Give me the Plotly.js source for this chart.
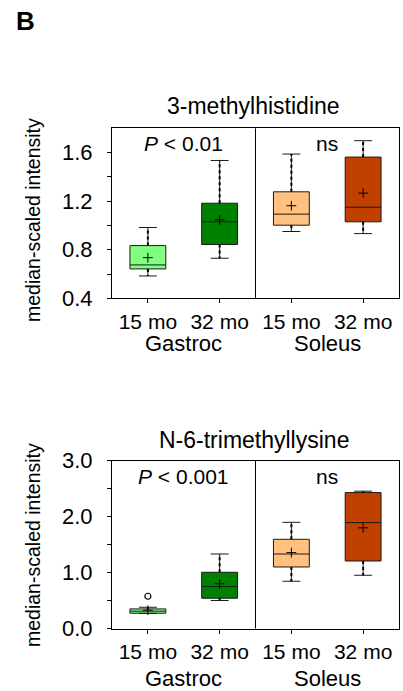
<!DOCTYPE html>
<html><head><meta charset="utf-8">
<script src="https://cdn.plot.ly/plotly-3.0.1.min.js"></script>
<style>html,body{margin:0;padding:0;background:#fff;}</style>
</head><body>
<div id="chart" style="width:403px;height:691px;"></div>
<script>
// categories
var groupIds = ['G15', 'G32', 'S15', 'S32'];
var groupTicks = ['15 mo', '32 mo', '15 mo', '32 mo'];
var tissues = ['Gastroc', 'Soleus'];
var boxColors = ['#80FF80', '#008000', '#FFC080', '#C04000'];

// 3-methylhistidine
var mh_lower = [0.584, 0.73, 0.95, 0.933];
var mh_q1 = [0.642, 0.843, 1.002, 1.03];
var mh_median = [0.675, 1.03, 1.093, 1.15];
var mh_q3 = [0.834, 1.183, 1.277, 1.563];
var mh_upper = [0.983, 1.535, 1.588, 1.698];
var mh_mean = [0.735, 1.046, 1.162, 1.266];

// N-6-trimethyllysine
var tml_lower = [0.27, 0.50, 0.845, 0.952];
var tml_q1 = [0.273, 0.541, 1.10, 1.207];
var tml_median = [0.31, 0.75, 1.332, 1.893];
var tml_q3 = [0.35, 1.005, 1.595, 2.43];
var tml_upper = [0.38, 1.332, 1.898, 2.455];
var tml_mean = [0.327, 0.80, 1.357, 1.80];
var tml_outlierX = ['G15'];
var tml_outlierY = [0.577];

var titles = ['3-methylhistidine', 'N-6-trimethyllysine'];
var pLabels = ['<i>P</i> < 0.01', '<i>P</i> < 0.001'];
var nsLabel = 'ns';
var yTitle = 'median-scaled intensity';

var FONT = 'Liberation Sans, Arial, Helvetica, sans-serif';
var traces = [];

function addPanel(xa, ya, lower, q1, med, q3, upper, mean) {
  for (var i = 0; i < groupIds.length; i++) {
    traces.push({
      type: 'box', xaxis: xa, yaxis: ya,
      x: [groupIds[i]],
      lowerfence: [lower[i]], q1: [q1[i]], median: [med[i]], q3: [q3[i]], upperfence: [upper[i]],
      fillcolor: boxColors[i],
      line: {color: '#1a1a1a', width: 1},
      width: 0.5, whiskerwidth: 0.5,
      boxpoints: false, hoverinfo: 'skip', showlegend: false
    });
    traces.push({
      type: 'scatter', mode: 'lines', xaxis: xa, yaxis: ya,
      x: [groupIds[i], groupIds[i], null, groupIds[i], groupIds[i]],
      y: [q3[i], upper[i], null, q1[i], lower[i]],
      line: {color: '#000', width: 2, dash: 'dot'},
      hoverinfo: 'skip', showlegend: false
    });
  }
  traces.push({
    type: 'scatter', mode: 'markers', xaxis: xa, yaxis: ya,
    x: groupIds, y: mean,
    marker: {symbol: 'cross-thin', size: 7, line: {color: '#000', width: 1}, color: '#000'},
    hoverinfo: 'skip', showlegend: false
  });
}

addPanel('x', 'y', mh_lower, mh_q1, mh_median, mh_q3, mh_upper, mh_mean);
addPanel('x2', 'y2', tml_lower, tml_q1, tml_median, tml_q3, tml_upper, tml_mean);
traces.push({
  type: 'scatter', mode: 'markers', xaxis: 'x2', yaxis: 'y2',
  x: tml_outlierX, y: tml_outlierY,
  marker: {symbol: 'circle-open', size: 6, color: '#000', line: {color: '#000', width: 1.2}},
  hoverinfo: 'skip', showlegend: false
});

var W = 403, H = 691;
function py(p) { return 1 - p / H; }
var xdom = [112 / W, 399 / W];

var xaxisBase = {
  domain: xdom, type: 'category', categoryorder: 'array', categoryarray: groupIds,
  range: [-0.5, 3.5], tickvals: groupIds, ticktext: groupTicks,
  ticks: 'outside', ticklen: 4, tickwidth: 1, tickcolor: '#000',
  showline: true, linecolor: '#000', linewidth: 1, mirror: true,
  showgrid: false, zeroline: false, fixedrange: true,
  tickfont: {family: FONT, size: 21, color: '#000'}
};
var yaxisBase = {
  ticks: 'outside', ticklen: 4, tickwidth: 1, tickcolor: '#000',
  showline: true, linecolor: '#000', linewidth: 1, mirror: true,
  showgrid: false, zeroline: false, fixedrange: true, ticklabelstandoff: 10,
  tickfont: {family: FONT, size: 22, color: '#000'}
};

function ann(text, xref, x, yPix, size, extra) {
  return Object.assign({text: text, xref: xref, yref: 'paper', x: x, y: py(yPix),
    xanchor: 'center', yanchor: 'middle', showarrow: false,
    font: {family: FONT, size: size, color: '#000'}}, extra || {});
}

var layout = {
  width: W, height: H,
  margin: {l: 0, r: 0, t: 0, b: 0},
  paper_bgcolor: '#fff', plot_bgcolor: '#fff',
  showlegend: false,
  font: {family: FONT, color: '#000'},
  xaxis: Object.assign({}, xaxisBase, {anchor: 'y'}),
  xaxis2: Object.assign({}, xaxisBase, {anchor: 'y2'}),
  yaxis: Object.assign({}, yaxisBase, {
    domain: [py(298.3), py(128.3)], range: [0.4, 1.8],
    tickvals: [0.4, 0.6, 0.8, 1.0, 1.2, 1.4, 1.6],
    ticktext: ['0.4', '', '0.8', '', '1.2', '', '1.6'], anchor: 'x'
  }),
  yaxis2: Object.assign({}, yaxisBase, {
    domain: [py(628.5), py(460.7)], range: [0, 3.0],
    tickvals: [0, 0.5, 1.0, 1.5, 2.0, 2.5, 3.0],
    ticktext: ['0.0', '', '1.0', '', '2.0', '', '3.0'], anchor: 'x2'
  }),
  shapes: [
    {type: 'line', xref: 'x', yref: 'y domain', x0: 1.5, x1: 1.5, y0: 0, y1: 1, line: {color: '#000', width: 1}},
    {type: 'line', xref: 'x2', yref: 'y2 domain', x0: 1.5, x1: 1.5, y0: 0, y1: 1, line: {color: '#000', width: 1}}
  ],
  annotations: [
    ann('<b>B</b>', 'paper', 25 / W, 21.5, 26),
    ann(titles[0], 'paper', 254 / W, 106, 23),
    ann(titles[1], 'paper', 254 / W, 440, 23),
    ann(pLabels[0], 'x', 0.5, 144, 21),
    ann(nsLabel, 'x', 2.5, 144, 21),
    ann(pLabels[1], 'x2', 0.5, 477, 21),
    ann(nsLabel, 'x2', 2.5, 477, 21),
    ann(tissues[0], 'x', 0.5, 343, 22),
    ann(tissues[1], 'x', 2.5, 343, 22),
    ann(tissues[0], 'x2', 0.5, 678, 22),
    ann(tissues[1], 'x2', 2.5, 678, 22),
    ann(yTitle, 'paper', 33 / W, 220, 19.5, {textangle: -90}),
    ann(yTitle, 'paper', 33 / W, 545, 19.5, {textangle: -90})
  ]
};

Plotly.newPlot('chart', traces, layout, {staticPlot: true, displayModeBar: false});
</script>
</body></html>
